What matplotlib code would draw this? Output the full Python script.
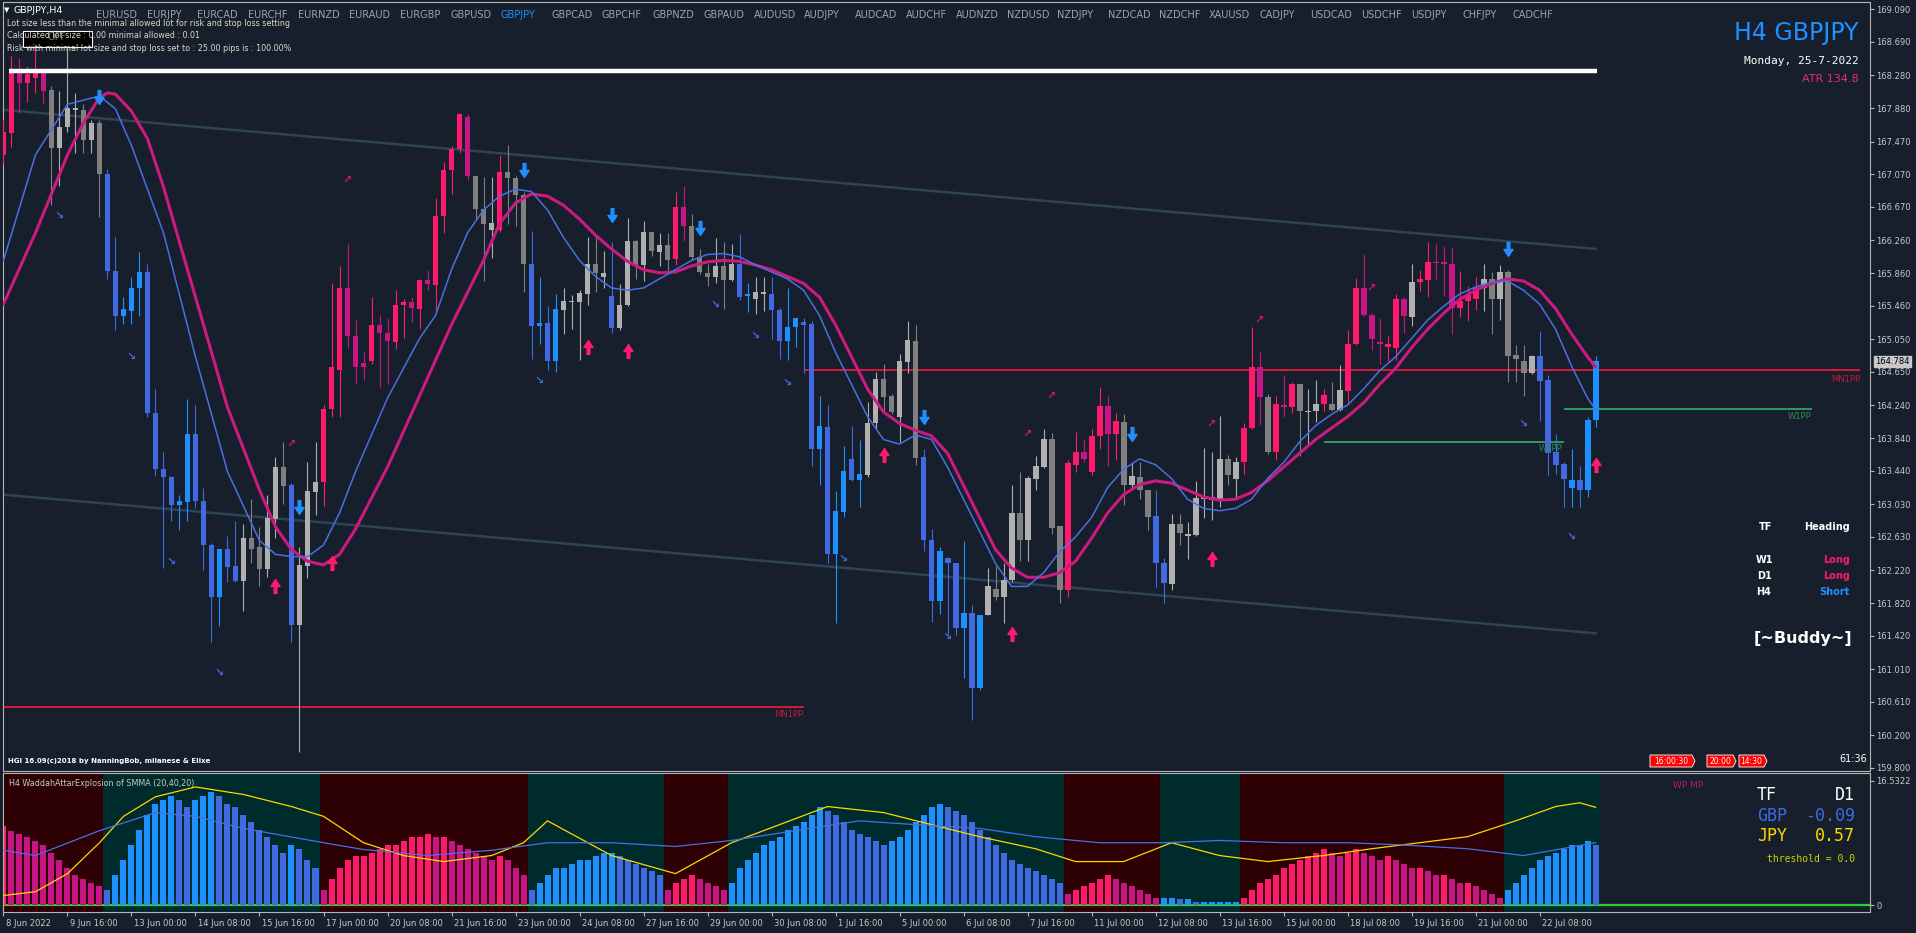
import numpy as np
import matplotlib
matplotlib.use("Agg")
import matplotlib.pyplot as plt
from matplotlib.path import Path
from matplotlib.patches import Rectangle, Polygon

# ---------------- data (GBPJPY H4, 8 Jun 2022 08:00 -> 25 Jul 2022 12:00) ----------------
c_open = [167.308, 167.572, 168.320, 168.191, 168.253, 168.309, 168.107, 167.387, 167.646, 167.854,
          167.859, 167.488, 167.702, 167.072, 165.886, 165.340, 165.396, 165.678, 165.874, 164.148,
          163.457, 163.361, 163.018, 163.063, 163.895, 163.074, 162.529, 161.899, 162.484, 162.276,
          162.090, 162.613, 162.501, 162.236, 162.849, 163.485, 163.260, 161.556, 162.276, 163.175,
          163.299, 164.199, 164.677, 165.678, 165.087, 164.761, 164.789, 165.228, 165.127, 165.020,
          165.470, 165.509, 165.425, 165.773, 165.717, 166.560, 167.123, 167.376, 167.769, 167.055,
          166.645, 166.392, 166.392, 167.100, 167.027, 166.813, 165.976, 165.217, 165.245, 164.789,
          165.408, 165.509, 165.509, 165.610, 165.976, 165.813, 165.582, 165.188, 165.464, 166.251,
          165.959, 166.364, 166.116, 166.201, 166.032, 166.673, 166.431, 166.060, 165.863, 165.807,
          165.942, 165.779, 165.970, 165.576, 165.537, 165.604, 165.604, 165.413, 165.031, 165.200,
          165.256, 165.239, 163.710, 163.974, 162.416, 162.934, 163.586, 163.327, 163.389, 164.030,
          164.564, 164.356, 164.103, 164.767, 165.031, 163.608, 162.596, 161.843, 162.377, 162.315,
          161.516, 161.702, 160.785, 161.674, 161.994, 161.899, 162.107, 162.922, 162.596, 163.344,
          163.485, 163.833, 162.765, 161.983, 163.513, 163.670, 163.428, 163.867, 164.227, 163.889,
          164.036, 163.271, 163.361, 163.203, 162.883, 162.315, 162.057, 162.793, 162.641, 162.653,
          163.091, 163.080, 163.091, 163.586, 163.344, 163.541, 163.963, 164.705, 164.339, 163.670,
          164.244, 164.216, 164.497, 164.159, 164.171, 164.255, 164.255, 164.187, 164.412, 164.986,
          165.678, 165.351, 165.020, 164.958, 164.947, 165.548, 165.323, 165.751, 165.779, 165.998,
          165.998, 165.970, 165.436, 165.520, 165.537, 165.678, 165.790, 165.537, 165.874, 164.862,
          164.778, 164.637, 164.845, 164.553, 163.665, 163.524, 163.232, 163.327, 163.203, 164.058]
c_high = [167.730, 168.517, 168.500, 168.393, 168.630, 168.320, 168.152, 168.084, 168.690, 168.067,
          167.927, 167.730, 167.730, 167.140, 166.296, 165.565, 165.818, 166.116, 165.976, 164.441,
          163.670, 163.372, 163.147, 164.317, 164.244, 163.232, 162.557, 162.484, 162.641, 162.821,
          162.782, 163.091, 162.754, 163.147, 163.608, 163.794, 163.288, 162.501, 163.541, 163.794,
          164.244, 165.734, 165.942, 166.212, 165.284, 164.890, 165.565, 165.351, 165.312, 165.650,
          165.548, 165.565, 165.790, 165.902, 166.774, 167.224, 167.421, 167.826, 167.814, 167.055,
          167.038, 167.038, 167.308, 167.432, 167.055, 166.858, 166.380, 165.818, 165.453, 165.604,
          165.678, 165.593, 165.650, 166.296, 166.296, 166.127, 166.240, 165.723, 166.532, 166.268,
          166.493, 166.364, 166.352, 166.352, 166.858, 166.931, 166.589, 166.155, 165.970, 166.285,
          166.240, 166.212, 166.341, 165.734, 165.807, 165.818, 165.807, 165.436, 165.678, 165.312,
          165.312, 165.273, 164.356, 164.244, 163.192, 163.738, 163.991, 163.822, 164.283, 164.654,
          164.750, 164.384, 164.873, 165.273, 165.228, 163.710, 162.726, 162.501, 162.388, 162.315,
          162.585, 161.798, 161.674, 162.248, 162.276, 162.304, 163.271, 163.428, 163.372, 163.625,
          163.946, 163.906, 162.765, 163.569, 163.918, 163.833, 163.946, 164.469, 164.356, 164.148,
          164.131, 163.541, 163.552, 163.203, 163.203, 162.371, 162.905, 162.911, 162.810, 163.316,
          163.721, 163.670, 164.114, 163.636, 163.608, 164.019, 165.200, 164.890, 164.384, 164.356,
          164.609, 164.525, 164.497, 164.441, 164.553, 164.441, 164.525, 164.739, 165.160, 165.801,
          166.099, 165.368, 165.312, 165.087, 165.610, 165.565, 165.976, 165.902, 166.240, 166.212,
          166.195, 166.184, 165.886, 165.706, 165.818, 165.976, 165.874, 165.959, 165.902, 164.975,
          164.975, 164.862, 165.155, 164.609, 163.889, 163.541, 163.710, 163.496, 164.092, 164.845]
c_low = [167.196, 167.409, 167.826, 167.955, 168.067, 167.927, 166.690, 166.926, 167.589, 167.336,
         167.336, 167.336, 166.549, 165.790, 165.160, 165.239, 165.239, 165.340, 164.103, 163.372,
         162.248, 162.827, 162.709, 162.821, 162.979, 162.219, 161.337, 161.533, 162.079, 162.079,
         161.725, 162.304, 162.034, 162.135, 162.613, 163.035, 161.348, 159.998, 162.124, 162.894,
         163.007, 164.103, 164.103, 164.947, 164.497, 164.553, 164.750, 164.469, 164.497, 164.935,
         165.070, 165.256, 165.172, 165.650, 165.396, 166.352, 166.830, 167.336, 166.999, 166.521,
         165.762, 166.043, 166.364, 166.465, 166.437, 165.633, 164.806, 164.992, 164.677, 164.654,
         165.115, 165.172, 164.795, 165.464, 165.633, 165.678, 165.132, 165.160, 165.453, 165.790,
         165.762, 166.071, 165.947, 165.874, 165.959, 166.257, 166.015, 165.846, 165.706, 165.734,
         165.425, 165.762, 165.526, 165.385, 165.357, 165.396, 165.059, 164.806, 164.795, 164.958,
         164.637, 163.496, 163.260, 162.304, 161.573, 162.877, 163.316, 162.990, 163.361, 163.946,
         164.159, 164.131, 163.794, 164.637, 163.513, 162.461, 161.584, 161.685, 161.432, 161.432,
         160.898, 160.392, 160.757, 161.674, 161.854, 161.573, 162.079, 162.332, 162.332, 163.203,
         163.473, 162.669, 161.826, 161.893, 163.428, 163.552, 163.383, 163.710, 163.496, 163.569,
         163.024, 163.232, 163.091, 162.709, 162.011, 161.826, 161.978, 162.529, 162.360, 162.641,
         162.866, 162.838, 162.990, 163.260, 163.091, 163.400, 163.946, 164.002, 163.642, 163.569,
         164.103, 164.148, 163.625, 163.738, 164.036, 164.171, 164.171, 164.171, 164.272, 164.975,
         165.340, 164.918, 164.750, 164.778, 164.795, 165.127, 165.211, 165.638, 165.565, 165.790,
         165.582, 165.115, 165.323, 165.273, 165.408, 165.396, 165.115, 165.284, 164.525, 164.525,
         164.356, 164.620, 164.047, 163.383, 163.400, 162.990, 162.990, 162.990, 163.119, 163.974]
c_close = [167.589, 168.349, 168.191, 168.292, 168.320, 168.095, 167.387, 167.646, 167.882, 167.882,
           167.488, 167.702, 167.072, 165.886, 165.340, 165.425, 165.678, 165.874, 164.148, 163.457,
           163.361, 163.018, 163.074, 163.895, 163.074, 162.529, 161.899, 162.484, 162.259, 162.090,
           162.613, 162.484, 162.236, 162.866, 163.485, 163.248, 161.556, 162.287, 163.192, 163.299,
           164.199, 164.705, 165.678, 165.087, 164.705, 164.705, 165.228, 165.127, 165.031, 165.470,
           165.509, 165.436, 165.773, 165.728, 166.560, 167.123, 167.381, 167.803, 167.055, 166.645,
           166.465, 166.476, 167.100, 167.027, 166.813, 165.970, 165.217, 165.245, 164.789, 165.425,
           165.520, 165.520, 165.621, 165.976, 165.857, 165.863, 165.188, 165.470, 166.251, 165.959,
           166.364, 166.127, 166.201, 166.026, 166.673, 166.431, 166.060, 165.874, 165.807, 165.942,
           165.779, 165.970, 165.565, 165.604, 165.633, 165.633, 165.413, 165.031, 165.200, 165.312,
           165.228, 163.710, 163.991, 162.416, 162.950, 163.440, 163.327, 163.400, 164.030, 164.564,
           164.339, 164.159, 164.778, 165.042, 163.597, 162.596, 161.843, 162.456, 162.304, 161.516,
           161.702, 160.785, 161.674, 162.023, 161.899, 162.107, 162.922, 162.596, 163.355, 163.496,
           163.833, 162.742, 161.983, 163.530, 163.670, 163.586, 163.867, 164.227, 163.889, 164.047,
           163.271, 163.372, 163.203, 162.877, 162.304, 162.068, 162.793, 162.680, 162.669, 163.102,
           163.119, 163.119, 163.586, 163.383, 163.541, 163.963, 164.705, 164.339, 163.670, 164.255,
           164.216, 164.497, 164.171, 164.171, 164.255, 164.367, 164.187, 164.424, 164.986, 165.678,
           165.351, 165.048, 164.986, 164.992, 165.548, 165.329, 165.751, 165.790, 165.998, 165.987,
           165.970, 165.436, 165.520, 165.593, 165.678, 165.790, 165.537, 165.874, 164.845, 164.806,
           164.637, 164.845, 164.542, 163.653, 163.513, 163.344, 163.327, 163.203, 164.064, 164.778]
# trend state of each candle: U = up (pink), D = down (blue), N = neutral (gray)
c_state = ("UUUUUUNNNNNNNDDDDDDDDDDDDDDDDDNNNNNNDNNNUUUUUUUUUUUUUUUUUUUNNNUNNNDDDDNNNNNNDNNNNNNNUUNNNNNN"
           "DDNNDDDDDDDDDDDDNNNNNNNDDDDDDDDNNNNNNNNNNUUUUUUUNNNNDDNNNNNNNNNUUUNUUUNNNUNNUUUUUUUUNUUUUUUUU"
           "NNNNNNNDDDDDDDDDDNN")

# moving averages (sampled at candle indices)
fast_idx = [0, 4, 8, 12, 14, 16, 20, 24, 28, 32, 34, 36, 38, 40, 42, 44, 48, 52, 54, 56, 58, 60, 62, 64, 66,
            68, 70, 72, 74, 76, 78, 80, 82, 84, 86, 88, 90, 92, 94, 96, 98, 100, 102, 104, 106, 108, 110,
            112, 114, 116, 118, 120, 122, 124, 126, 128, 130, 132, 134, 136, 138, 140, 142, 144, 146, 148,
            150, 152, 154, 156, 158, 160, 162, 164, 166, 168, 170, 172, 174, 176, 178, 180, 182, 184, 186,
            188, 190, 192, 194, 196, 198, 199]
fast_ma = [166.015, 167.308, 167.927, 168.028, 167.871, 167.421, 166.352, 164.834, 163.428, 162.585, 162.416,
           162.388, 162.388, 162.529, 162.922, 163.428, 164.328, 165.059, 165.340, 165.902, 166.352, 166.633,
           166.802, 166.887, 166.858, 166.633, 166.296, 166.015, 165.818, 165.678, 165.650, 165.678, 165.790,
           165.902, 166.015, 166.088, 166.099, 166.060, 165.959, 165.874, 165.790, 165.650, 165.340, 164.890,
           164.497, 164.103, 163.822, 163.766, 163.878, 163.822, 163.485, 163.091, 162.698, 162.304, 162.023,
           162.023, 162.191, 162.444, 162.630, 162.866, 163.232, 163.457, 163.586, 163.513, 163.344, 163.091,
           162.979, 162.950, 162.979, 163.091, 163.344, 163.541, 163.794, 163.991, 164.131, 164.244, 164.441,
           164.665, 164.834, 165.059, 165.284, 165.453, 165.604, 165.689, 165.751, 165.762, 165.650, 165.481,
           165.172, 164.722, 164.328, 164.187]
slow_idx = [0, 4, 8, 10, 12, 13, 14, 16, 18, 20, 24, 28, 32, 34, 36, 38, 40, 42, 44, 48, 52, 56, 60, 62, 64,
            66, 68, 70, 72, 74, 76, 78, 80, 82, 84, 86, 88, 90, 92, 94, 96, 98, 100, 102, 104, 106, 108, 110,
            112, 114, 116, 118, 120, 122, 124, 126, 128, 130, 132, 134, 136, 138, 140, 142, 144, 146, 148, 150,
            152, 154, 156, 158, 160, 162, 164, 166, 168, 170, 172, 174, 176, 178, 180, 182, 184, 186, 188, 190,
            192, 194, 196, 198, 199]
slow_ma = [165.481, 166.352, 167.308, 167.702, 168.011, 168.067, 168.051, 167.842, 167.505, 166.915, 165.565,
           164.216, 163.203, 162.754, 162.473, 162.332, 162.287, 162.416, 162.726, 163.485, 164.356, 165.228,
           166.015, 166.465, 166.718, 166.830, 166.802, 166.690, 166.521, 166.324, 166.155, 166.004, 165.902,
           165.863, 165.874, 165.947, 165.998, 166.015, 166.004, 165.959, 165.902, 165.818, 165.734, 165.565,
           165.228, 164.834, 164.441, 164.159, 164.019, 163.934, 163.867, 163.653, 163.260, 162.866, 162.473,
           162.248, 162.135, 162.135, 162.191, 162.332, 162.613, 162.922, 163.147, 163.271, 163.316, 163.288,
           163.203, 163.119, 163.080, 163.091, 163.175, 163.316, 163.485, 163.653, 163.822, 163.963, 164.103,
           164.272, 164.497, 164.694, 164.947, 165.172, 165.368, 165.537, 165.650, 165.734, 165.790, 165.762,
           165.650, 165.425, 165.115, 164.834, 164.710]

# regression channel (start / end at candle 0 and 199)
chan_upper = [167.859, 166.156]
chan_lower = [163.147, 161.449]
# pivot levels
mn1pp_old, mn1pp_new = 160.549, 164.677
w1pp_old, w1pp_new = 163.794, 164.199

# signal arrows: (candle, price)
arrows_down = [(12, 168.011), (37, 162.990), (65, 167.123), (76, 166.566), (87, 166.409), (115, 164.092),
               (141, 163.889), (188, 166.156)]
arrows_up = [(34, 162.034), (41, 162.304), (73, 164.958), (78, 164.907), (110, 163.636), (126, 161.443),
             (151, 162.360), (199, 163.513)]
diag_down = [(7, 166.560), (16, 164.834), (21, 162.320), (27, 160.965), (67, 164.542), (89, 165.470),
             (94, 165.087), (98, 164.514), (105, 162.360), (118, 161.404), (190, 164.019), (196, 162.624)]
diag_up = [(36, 163.766), (43, 166.999), (128, 163.895), (131, 164.356), (151, 164.019), (157, 165.284),
           (171, 165.678)]

price_ticks = [169.090, 168.690, 168.280, 167.880, 167.470, 167.070, 166.670, 166.260, 165.860, 165.460,
               165.050, 164.650, 164.240, 163.840, 163.440, 163.030, 162.630, 162.220, 161.820, 161.420,
               161.010, 160.610, 160.200, 159.800]
time_labels = ["8 Jun 2022", "9 Jun 16:00", "13 Jun 00:00", "14 Jun 08:00", "15 Jun 16:00", "17 Jun 00:00",
               "20 Jun 08:00", "21 Jun 16:00", "23 Jun 00:00", "24 Jun 08:00", "27 Jun 16:00",
               "29 Jun 00:00", "30 Jun 08:00", "1 Jul 16:00", "5 Jul 00:00", "6 Jul 08:00", "7 Jul 16:00",
               "11 Jul 00:00", "12 Jul 08:00", "13 Jul 16:00", "15 Jul 00:00", "18 Jul 08:00",
               "19 Jul 16:00", "21 Jul 00:00", "22 Jul 08:00"]
symbols = ["EURUSD", "EURJPY", "EURCAD", "EURCHF", "EURNZD", "EURAUD", "EURGBP", "GBPUSD", "GBPJPY",
           "GBPCAD", "GBPCHF", "GBPNZD", "GBPAUD", "AUDUSD", "AUDJPY", "AUDCAD", "AUDCHF", "AUDNZD",
           "NZDUSD", "NZDJPY", "NZDCAD", "NZDCHF", "XAUUSD", "CADJPY", "USDCAD", "USDCHF", "USDJPY",
           "CHFJPY", "CADCHF"]

# Waddah Attar Explosion: histogram (+ up trend, - down trend), explosion line, dead zone
wae_hist = [10.5, 9.8, 9.5, 9.0, 8.5, 8.0, 7.0, 6.0, 5.0, 4.0, 3.5, 3.0, 2.5,
            -2, -4, -6, -8, -10, -12, -13.5, -14, -14.5, -14, -13, -14, -14.5, -15, -14.5, -13.5, -13,
            -12, -11, -10, -9, -8, -7, -8, -7.5, -6, -5,
            2, 3.5, 5, 6, 6.5, 6.5, 7, 7.5, 8, 8, 8.5, 9, 9, 9.5, 9, 9, 8.5, 8, 7.5, 7, 6.5, 6, 6.5, 6,
            5, 4,
            -2, -3, -4, -5, -5, -5.5, -6, -6, -6.5, -7, -7, -6.5, -6, -5.5, -5, -4.5, -4,
            2, 3, 3.5, 4, 3.5, 3, 2.5, 2,
            -3, -5, -6, -7, -8, -8.5, -9, -10, -10.5, -11, -12, -13, -12.5, -12, -11, -10, -9.5, -9,
            -8.5, -8, -8.5, -9, -10, -11, -12, -13, -13.5, -13, -12.5, -12, -11, -10, -9, -8, -7, -6,
            -5.5, -5, -4.5, -4, -3.5, -3,
            1.5, 2, 2.5, 3, 3.5, 4, 3.5, 3, 2.5, 2, 1.5, 1,
            -1, -1, -0.8, -0.8, -0.5, -0.5, -0.5, -0.5, -0.5, -0.5,
            1, 2, 3, 3.5, 4, 5, 5.5, 6, 6.5, 7, 7.5, 7, 6.5, 7, 7.5, 7, 6.5, 6, 6.5, 6, 5.5, 5, 5,
            4.5, 4, 4, 3.5, 3, 3, 2.5, 2, 1.5, 1,
            -2, -3, -4, -5, -6, -6.5, -7, -7.5, -8, -8, -8.5, -8]
trend_bands = [(0, 13, "up"), (13, 40, "dn"), (40, 66, "up"), (66, 83, "dn"), (83, 91, "up"),
               (91, 133, "dn"), (133, 145, "up"), (145, 155, "dn"), (155, 188, "up"), (188, 200, "dn")]
expl_idx = [0, 4, 8, 12, 15, 17, 19, 24, 30, 36, 40, 45, 50, 55, 61, 65, 68, 76, 84, 91, 99, 103, 110,
            116, 122, 129, 134, 140, 146, 152, 158, 165, 171, 177, 183, 189, 194, 197, 199]
expl_line = [1.3, 1.8, 4.2, 8.3, 11.8, 13.1, 14.4, 15.7, 14.7, 13.1, 11.8, 8.3, 6.6, 5.8, 6.6, 8.3, 11.2,
             6.6, 4.2, 8.3, 11.5, 13.1, 12.3, 10.7, 9.1, 7.5, 5.8, 5.8, 8.3, 6.6, 5.8, 6.6, 7.5, 8.3, 9.1,
             11.2, 13.1, 13.6, 13.0]
dead_idx = [0, 4, 12, 19, 24, 30, 40, 45, 53, 61, 68, 76, 84, 91, 99, 107, 114, 122, 129, 137, 145, 152,
            160, 168, 175, 183, 190, 199]
dead_line = [7.3, 6.6, 9.9, 12.3, 11.8, 10.2, 8.3, 7.4, 6.6, 7.3, 8.3, 8.3, 7.8, 8.6, 9.9, 11.2, 10.7,
             10.2, 9.1, 8.3, 8.3, 8.6, 8.3, 8.3, 8.0, 7.5, 6.6, 8.3]

# ---------------- figure ----------------
W, H = 1916, 933
BG = "#161f2b"
GRID = "#b4b4b4"
TXT = "#c8c8c8"
PINK, MAG = "#ff1a6e", "#c71585"
DODGER, ROYAL = "#1e90ff", "#4169e1"
LGRAY, DGRAY = "#b0b0b0", "#808080"


def fx(px):
    return px / W


def fy(py):
    return 1 - py / H


fig = plt.figure(figsize=(W / 100, H / 100), dpi=100, facecolor=BG)
ax = fig.add_axes([fx(3), fy(771), fx(1870) - fx(3), fy(2.3) - fy(771)], facecolor=BG)
ax2 = fig.add_axes([fx(3), fy(912.3), fx(1870) - fx(3), fy(773.3) - fy(912.3)], facecolor=BG)
XL = (-0.06, 233.3)

# ---------------- candles ----------------
o = np.array(c_open)
h = np.array(c_high)
l = np.array(c_low)
c = np.array(c_close)
idx = np.arange(len(c))
palette = {("U", True): PINK, ("U", False): MAG, ("D", True): DODGER, ("D", False): ROYAL,
           ("N", True): LGRAY, ("N", False): DGRAY}
cols = [palette[(s, cc >= oo)] for s, oo, cc in zip(c_state, o, c)]
ax.vlines(idx, l, h, colors=cols, lw=0.8, zorder=3)
ax.bar(idx, np.maximum(np.abs(c - o), 0.012), bottom=np.minimum(o, c), width=0.74, color=cols,
       linewidth=0, zorder=4)

# channel, moving averages
ax.plot([0, 199], chan_upper, color="#2c4358", lw=1.8, zorder=2)
ax.plot([0, 199], chan_lower, color="#2c4358", lw=1.8, zorder=2)
ax.plot(slow_idx, slow_ma, color="#cc1a80", lw=2.2, zorder=5, solid_capstyle="round")
ax.plot(fast_idx, fast_ma, color="#4a6fe3", lw=1.1, zorder=6)

# pivot lines
ax.hlines(mn1pp_old, XL[0], 100, color="#e8193c", lw=1.3, zorder=2)
ax.hlines(mn1pp_new, 100, 232.1, color="#e8193c", lw=1.3, zorder=2)
ax.hlines(w1pp_old, 165, 195, color="#2fa862", lw=1.3, zorder=2)
ax.hlines(w1pp_new, 195, 226, color="#2fa862", lw=1.3, zorder=2)
ax.text(100, 160.459, "MN1PP", color="#c8193c", fontsize=6, ha="right", va="center")
ax.text(232.1, 164.563, "MN1PP", color="#c8193c", fontsize=6, ha="right", va="center")
ax.text(194.9, 163.710, "W1PP", color="#2e8b57", fontsize=6, ha="right", va="center", zorder=7)
ax.text(226, 164.100, "W1PP", color="#2e8b57", fontsize=6, ha="right", va="center")
ax.hlines(168.34, 0.64, 199.2, color="white", lw=3.2, zorder=6)

# arrows
down_path = Path([(-0.1, 0.5), (0.1, 0.5), (0.1, 0.0), (0.33, 0.0), (0.0, -0.5), (-0.33, 0.0),
                  (-0.1, 0.0), (-0.1, 0.5)], closed=True)
up_path = Path([(x, -y) for x, y in down_path.vertices], closed=True)
for k, p in arrows_down:
    ax.plot(k, p, marker=down_path, ms=10, color=DODGER, mec=DODGER, zorder=8)
for k, p in arrows_up:
    ax.plot(k, p, marker=up_path, ms=10, color=PINK, mec=PINK, zorder=8)
for k, p in diag_down:
    ax.text(k, p, "↘", color=ROYAL, fontsize=8, fontweight="bold", ha="center", va="center", zorder=8)
for k, p in diag_up:
    ax.text(k, p, "↗", color=MAG, fontsize=8, fontweight="bold", ha="center", va="center", zorder=8)

ax.set_xlim(*XL)
ax.set_ylim(159.763, 169.176)
ax.set_xticks([])
ax.yaxis.tick_right()
ax.set_yticks(price_ticks)
ax.set_yticklabels([f"{v:.3f}" for v in price_ticks])
ax.tick_params(axis="y", colors=GRID, labelcolor=TXT, labelsize=6, length=3, pad=1.5, width=0.8)
for s in ax.spines.values():
    s.set_color(GRID)
    s.set_linewidth(0.8)

# current price box
ax.annotate(f"{c[-1] + 0.006:.3f}", xy=(1.0, c[-1]), xycoords=("axes fraction", "data"),
            xytext=(4, 0), textcoords="offset points", fontsize=6, color="black", va="center",
            ha="left", bbox=dict(boxstyle="square,pad=0.15", fc="#c8c8c8", ec="#c8c8c8"),
            annotation_clip=False)

# ---------------- indicator panel ----------------
band_col = {"up": "#2d0003", "dn": "#002b2c"}
for a, b, t in trend_bands:
    ax2.axvspan(a - 0.5, b - 0.5, color=band_col[t], lw=0, zorder=0)
ax2.axhline(0, color="#32cd32", lw=1.6, zorder=1)
vals = np.array(wae_hist)
prev = np.concatenate([[0], np.abs(vals[:-1])])
bar_cols = []
for v, pv in zip(vals, prev):
    rising = abs(v) >= pv
    if v > 0:
        bar_cols.append(PINK if rising else MAG)
    else:
        bar_cols.append(DODGER if rising else ROYAL)
ax2.bar(np.arange(len(vals)), np.abs(vals), width=0.75, color=bar_cols, lw=0, zorder=2)
ax2.plot(expl_idx, expl_line, color="#ffd700", lw=0.9, zorder=3)
ax2.plot(dead_idx, dead_line, color="#4a6fe3", lw=0.9, zorder=3)
ax2.set_xlim(*XL)
ax2.set_ylim(-0.93, 17.51)
ax2.yaxis.tick_right()
ax2.set_yticks([16.5322, 0])
ax2.set_yticklabels(["16.5322", "0"])
ax2.tick_params(axis="y", colors=GRID, labelcolor=TXT, labelsize=6, length=3, pad=1.5, width=0.8)
tick_k = np.arange(0, 8 * len(time_labels), 8)
ax2.set_xticks(tick_k)
ax2.set_xticklabels([])
ax2.tick_params(axis="x", colors=GRID, length=3, width=0.8)
for k, lab in zip(tick_k, time_labels):
    ax2.annotate(lab, xy=(k, 0), xycoords=("data", "axes fraction"), xytext=(1.5, -5),
                 textcoords="offset points", fontsize=6, color=TXT, ha="left", va="top",
                 annotation_clip=False)
for s in ax2.spines.values():
    s.set_color(GRID)
    s.set_linewidth(0.8)
ax2.text(0.003, 0.93, "H4 WaddahAttarExplosion of SMMA (20,40,20)", transform=ax2.transAxes,
         fontsize=5.8, color=TXT, va="center", ha="left", zorder=5)

# ---------------- overlay texts ----------------
fig.text(fx(7), fy(10.5), "▼", fontsize=5, color="white", va="center", ha="center")
fig.text(fx(13), fy(10.5), "GBPJPY,H4", fontsize=6.8, color="white", va="center", ha="left")
for j, sym in enumerate(symbols):
    fig.text(fx(96 + 50.6 * j), fy(14.5), sym, fontsize=7, color=DODGER if sym == "GBPJPY" else "#9aa5b1",
             va="center", ha="left")
fig.patches.append(Rectangle((fx(23), fy(46.5)), fx(92) - fx(23), fy(31) - fy(46.5),
                             transform=fig.transFigure, fc="black", ec="white", lw=0.8, zorder=5))
fig.text(fx(57), fy(37), "OFF", fontsize=7, color="#7a7a7a", va="center", ha="center", zorder=6)
info = ["Lot size less than the minimal allowed lot for risk and stop loss setting",
        "Calculated lot size : 0.00 minimal allowed : 0.01",
        "Risk with minimal lot size and stop loss set to : 25.00 pips is : 100.00%"]
for j, t in enumerate(info):
    fig.text(fx(7), fy(23 + 12.6 * j), t, fontsize=5.8, color="#ded6c6", va="center", ha="left", zorder=7)

fig.text(fx(1859), fy(33), "H4 GBPJPY", fontsize=17, color=DODGER, ha="right", va="center")
fig.text(fx(1859), fy(61), "Monday, 25-7-2022", fontsize=8, family="DejaVu Sans Mono", color="white",
         ha="right", va="center")
fig.text(fx(1859), fy(78.5), "ATR 134.8", fontsize=8, color="#e8306a", ha="right", va="center")

cond = dict(family=["Liberation Sans Narrow", "DejaVu Sans"], fontweight="bold")
fig.text(fx(1766), fy(527), "TF", fontsize=7, color="white", ha="center", va="center", **cond)
fig.text(fx(1850), fy(527), "Heading", fontsize=7, color="white", ha="right", va="center", **cond)
for j, (tf, hd, col) in enumerate([("W1", "Long", PINK), ("D1", "Long", PINK), ("H4", "Short", DODGER)]):
    fig.text(fx(1764), fy(560 + 16 * j), tf, fontsize=7, color="white", ha="center", va="center", **cond)
    fig.text(fx(1850), fy(560 + 16 * j), hd, fontsize=7, color=col, ha="right", va="center", **cond)
fig.text(fx(1803), fy(638), "[~Buddy~]", fontsize=11.5, color="white", ha="center", va="center", **cond)

fig.text(fx(8), fy(761), "HGI 16.09(c)2018 by NanningBob, milanese & Elixe", fontsize=5, color="white",
         fontweight="bold", ha="left", va="center")

for x0, x1, lab in [(1650, 1695, "16:00:30"), (1707, 1736, "20:00"), (1739, 1767, "14:30")]:
    poly = [(fx(x0), fy(755)), (fx(x1 - 3), fy(755)), (fx(x1), fy(761)), (fx(x1 - 3), fy(767)),
            (fx(x0), fy(767))]
    fig.patches.append(Polygon(poly, closed=True, transform=fig.transFigure, fc="#ff0000", ec="white",
                               lw=0.6, zorder=5))
    fig.text(fx((x0 + x1 - 3) / 2), fy(761), lab, fontsize=5.5, color="white", ha="center", va="center",
             zorder=6)
fig.text(fx(1853), fy(759), "61:36", fontsize=7, color="white", ha="center", va="center")

fig.text(fx(1688), fy(786), "WP MP", fontsize=6.5, color="#c0186b", ha="center", va="center")
mono = dict(family="DejaVu Sans Mono")
fig.text(fx(1757), fy(795), "TF", fontsize=12, color="white", ha="left", va="center", **mono)
fig.text(fx(1855), fy(795), "D1", fontsize=12, color="white", ha="right", va="center", **mono)
fig.text(fx(1757), fy(816), "GBP", fontsize=12, color=ROYAL, ha="left", va="center", **mono)
fig.text(fx(1855), fy(816), "-0.09", fontsize=12, color=ROYAL, ha="right", va="center", **mono)
fig.text(fx(1757), fy(836), "JPY", fontsize=12, color="#ffd700", ha="left", va="center", **mono)
fig.text(fx(1855), fy(836), "0.57", fontsize=12, color="#ffd700", ha="right", va="center", **mono)
fig.text(fx(1855), fy(859), "threshold = 0.0", fontsize=7, color="#c8d400", ha="right", va="center", **mono)

fig.savefig("out.png", dpi=100, facecolor=BG)
